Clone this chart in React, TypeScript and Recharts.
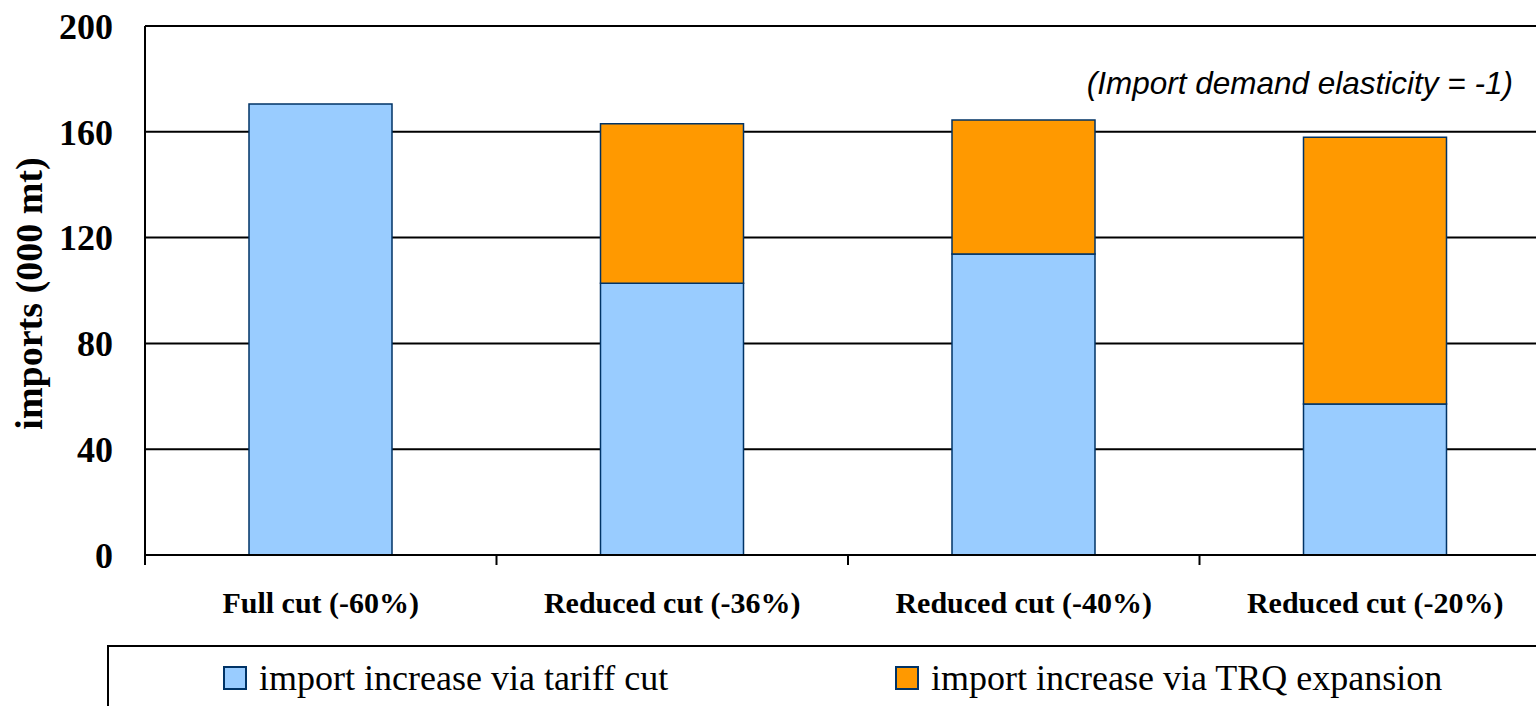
import { BarChart, Bar, XAxis, YAxis, CartesianGrid, Label } from "recharts";

const categories = [
  "Full cut (-60%)",
  "Reduced cut (-36%)",
  "Reduced cut (-40%)",
  "Reduced cut (-20%)",
];
const viaTariff = [170.5, 102.7, 113.8, 57.1];
const viaTrq = [0, 60.3, 50.7, 100.8];
const yTicks = [0, 40, 80, 120, 160, 200];

const seriesNames = ["import increase via tariff cut", "import increase via TRQ expansion"];
const seriesColors = ["#99CCFF", "#FF9900"];

const data = categories.map((name, i) => ({
  name,
  tariff: viaTariff[i],
  trq: viaTrq[i] || null,
}));

const serif = '"Liberation Serif", "Times New Roman", serif';

// category label plus a tick mark on the boundary between categories
function CategoryTick(props: any) {
  const { x, y, payload } = props;
  const edge = x - (payload.offset || 0);
  return (
    <g>
      <line x1={edge} x2={edge} y1={y - 37} y2={y - 27} stroke="#000" strokeWidth={2} />
      <text
        x={x}
        y={y}
        dy="0.71em"
        textAnchor="middle"
        fill="#000"
        fontFamily={serif}
        fontWeight="bold"
        fontSize={30}
      >
        {payload.value}
      </text>
    </g>
  );
}

export default function App() {
  return (
    <div
      style={{
        position: "absolute",
        left: 0,
        top: 0,
        width: 1536,
        height: 706,
        overflow: "hidden",
        background: "#fff",
      }}
    >
      <BarChart
        width={1560}
        height={706}
        data={data}
        margin={{ top: 26, right: 9, bottom: 0, left: 0 }}
      >
        <CartesianGrid vertical={false} stroke="#000" strokeWidth={2} />
        <XAxis
          dataKey="name"
          height={151}
          stroke="#000"
          strokeWidth={2}
          tickLine={false}
          tickSize={0}
          tickMargin={37}
          tick={<CategoryTick />}
        />
        <YAxis
          width={145}
          domain={[0, 200]}
          ticks={yTicks}
          stroke="#000"
          strokeWidth={2}
          tickLine={false}
          tickSize={0}
          tickMargin={32}
          tick={{ fill: "#000", fontFamily: serif, fontWeight: "bold", fontSize: 36 }}
        >
          <Label
            value="imports (000 mt)"
            angle={-90}
            position="insideLeft"
            offset={0}
            dx={29}
            dy={3}
            style={{
              fill: "#000",
              fontFamily: serif,
              fontWeight: "bold",
              fontSize: 38,
              textAnchor: "middle",
            }}
          />
        </YAxis>
        <Bar
          dataKey="tariff"
          stackId="a"
          barSize={143}
          fill={seriesColors[0]}
          stroke="#003366"
          strokeWidth={1.5}
          isAnimationActive={false}
        />
        <Bar
          dataKey="trq"
          stackId="a"
          barSize={143}
          fill={seriesColors[1]}
          stroke="#003366"
          strokeWidth={1.5}
          isAnimationActive={false}
        />
        <text
          x={1513}
          y={94}
          textAnchor="end"
          fontFamily='"Liberation Sans", Arial, sans-serif'
          fontStyle="italic"
          fontSize={31.5}
          fill="#000"
        >
          (Import demand elasticity = -1)
        </text>
      </BarChart>

      {/* legend box */}
      <div
        style={{
          position: "absolute",
          left: 107,
          top: 645,
          width: 1460,
          height: 100,
          border: "2px solid #000",
          boxSizing: "border-box",
        }}
      />
      {seriesNames.map((name, i) => (
        <div
          key={name}
          style={{
            position: "absolute",
            left: i === 0 ? 223 : 895,
            top: 657,
            display: "flex",
            alignItems: "center",
            fontFamily: serif,
            fontSize: 36,
            color: "#000",
            whiteSpace: "nowrap",
          }}
        >
          <span
            style={{
              display: "inline-block",
              width: 20,
              height: 20,
              background: seriesColors[i],
              border: "2px solid #003366",
              marginRight: 12,
            }}
          />
          {name}
        </div>
      ))}
    </div>
  );
}
